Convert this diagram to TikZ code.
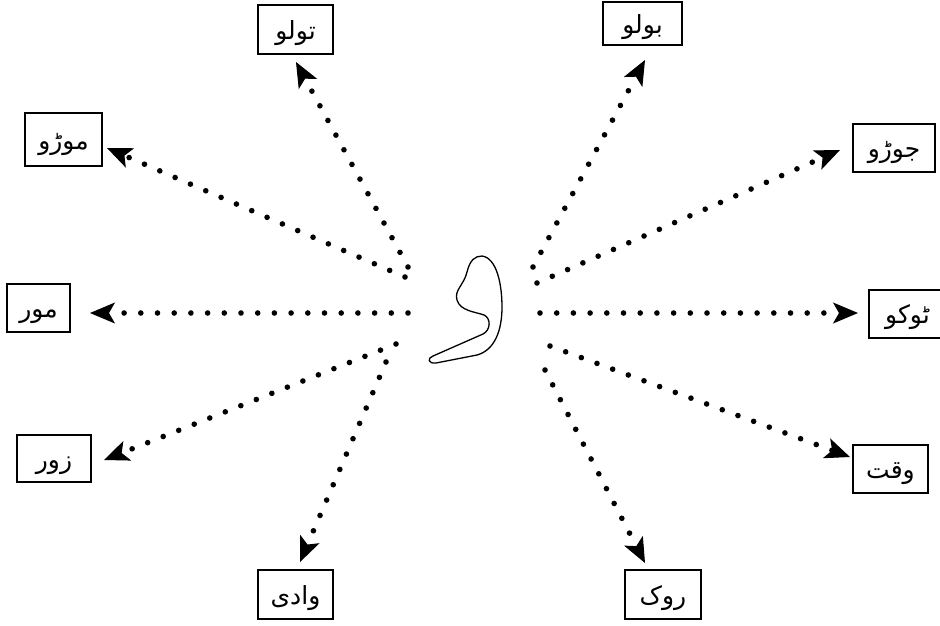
\documentclass[tikz,border=0pt]{standalone}
\usepackage{fontspec}
\newfontfamily\urdu[Script=Arabic]{DejaVu Sans}
\TeXXeTstate=1
\usetikzlibrary{arrows.meta}
\begin{document}
\begin{tikzpicture}[x=1pt,y=-1pt,
  wordbox/.style={draw, line width=1.2pt, inner sep=0pt, text height=19pt, text depth=0pt,
    font=\urdu\fontsize{25}{30}\selectfont},
  dotarrow/.style={line width=5.6pt, line cap=round, dash pattern=on 0pt off 16.7pt,
    -{Stealth[length=25pt,width=21pt,inset=6pt,line width=1pt]}}]
\useasboundingbox (0,0) rectangle (940,625);
\fill[white] (0,0) rectangle (940,625);

% word boxes
\node[wordbox, minimum width=75pt, minimum height=49pt] (tolo) at (295.5,29.5) {\beginR تولو\endR};
\node[wordbox, minimum width=79pt, minimum height=43pt] (bolo) at (642.5,23.5) {\beginR بولو\endR};
\node[wordbox, minimum width=77pt, minimum height=53pt] (moro) at (63.5,139.5) {\beginR موڑو\endR};
\node[wordbox, minimum width=82pt, minimum height=48pt] (joro) at (894,148) {\beginR جوڑو\endR};
\node[wordbox, minimum width=63pt, minimum height=48pt] (mor) at (38.5,308) {\beginR مور\endR};
\node[wordbox, minimum width=77pt, minimum height=48pt] (toko) at (907.5,314) {\beginR ٹوکو\endR};
\node[wordbox, minimum width=74pt, minimum height=47pt] (zor) at (54,458.5) {\beginR زور\endR};
\node[wordbox, minimum width=75pt, minimum height=48pt] (waqt) at (890.5,469) {\beginR وقت\endR};
\node[wordbox, minimum width=75pt, minimum height=49pt] (wadi) at (295.5,594.5) {\beginR وادی\endR};
\node[wordbox, minimum width=76pt, minimum height=49pt] (rok) at (663,594.5) {\beginR روک\endR};

% central letter outline
\draw[line width=1.3pt, line join=round] (482,256) .. controls (497,258) and (502,285) .. (502,307)
  .. controls (502,330) and (495,350) .. (477,355) -- (436,363)
  .. controls (428,364) and (427,358) .. (433,356) -- (483,334)
  .. controls (491,330) and (491,318) .. (484,315)
  .. controls (476,312) and (460,311) .. (457,300)
  .. controls (454,290) and (464,285) .. (467,272)
  .. controls (470,260) and (475,256) .. (482,256) -- cycle;

% start and tip coordinates
\coordinate (s1) at (408,267);  \coordinate (t1) at (296,62);
\coordinate (s2) at (533,267);  \coordinate (t2) at (645,60);
\coordinate (s3) at (405,277);  \coordinate (t3) at (107,148);
\coordinate (s4) at (537,283);  \coordinate (t4) at (840,150);
\coordinate (s5) at (408,313);  \coordinate (t5) at (90,313);
\coordinate (s6) at (540,313);  \coordinate (t6) at (858,313);
\coordinate (s7) at (396,344);  \coordinate (t7) at (104,460);
\coordinate (s8) at (550,346);  \coordinate (t8) at (850,457);
\coordinate (s9) at (386,362);  \coordinate (t9) at (300,562);
\coordinate (s10) at (545,370); \coordinate (t10) at (645,563);

\foreach \i in {1,...,10} {\draw[dotarrow] (s\i) -- (t\i);}
\end{tikzpicture}
\end{document}
